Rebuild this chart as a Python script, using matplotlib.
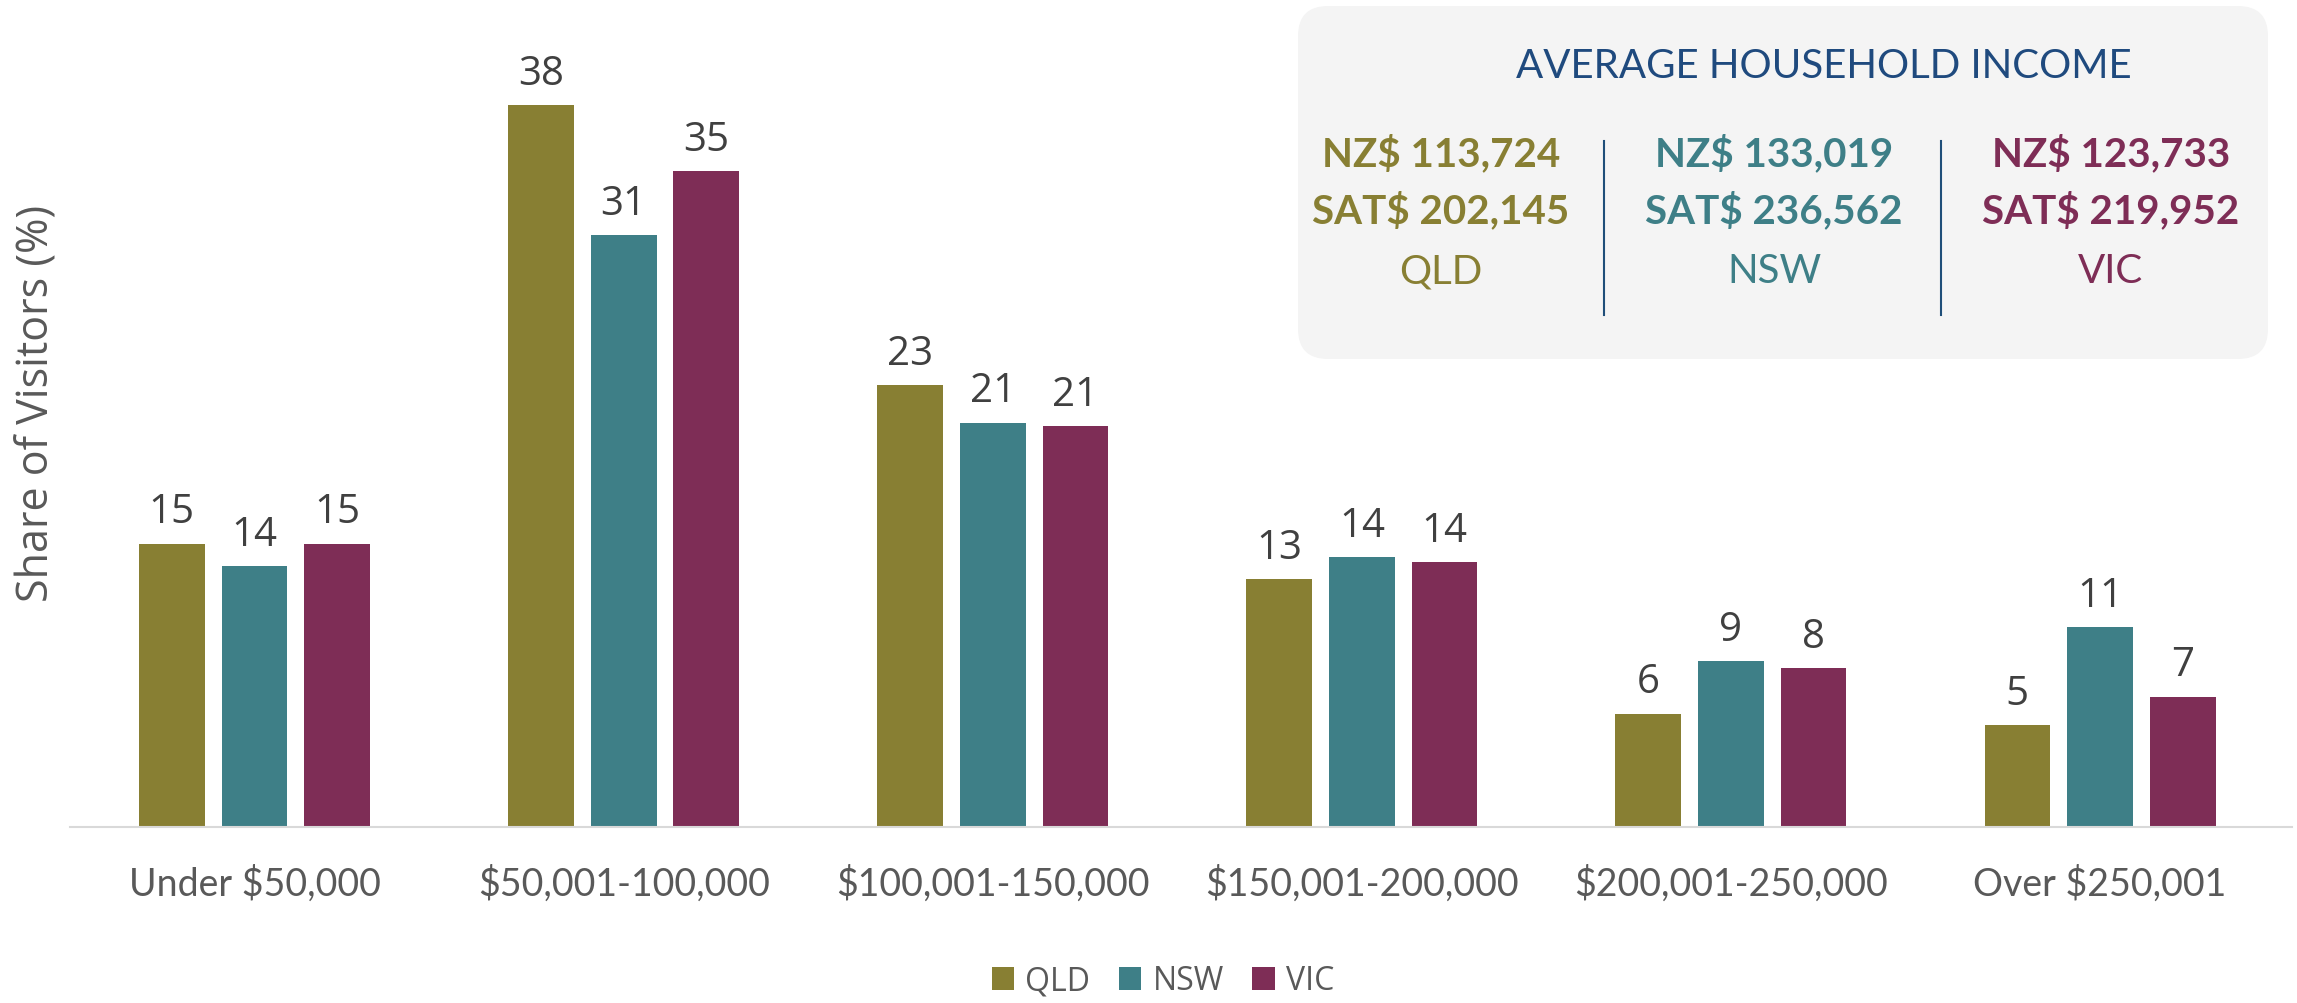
import matplotlib.pyplot as plt
import numpy as np
from matplotlib.patches import FancyBboxPatch

# data
categories = ['Under $50,000', '$50,001-100,000', '$100,001-150,000',
              '$150,001-200,000', '$200,001-250,000', 'Over $250,001']
states = ['QLD', 'NSW', 'VIC']
qld = [15.0, 38.2, 23.4, 13.1, 6.0, 5.4]
nsw = [13.8, 31.3, 21.4, 14.3, 8.8, 10.6]
vic = [15.0, 34.7, 21.2, 14.0, 8.4, 6.9]
nz_income = ['NZ$ 113,724', 'NZ$ 133,019', 'NZ$ 123,733']
sat_income = ['SAT$ 202,145', 'SAT$ 236,562', 'SAT$ 219,952']

colors = ['#887F33', '#3E7F87', '#7E2D56']
W, H = 2297, 1004

fig = plt.figure(figsize=(W / 100, H / 100), dpi=100)
ax = fig.add_axes([70 / W, 176 / H, 2222 / W, 756 / H])

x = np.arange(len(categories))
width = 0.178
step = 0.224
for i, (vals, c, name) in enumerate(zip([qld, nsw, vic], colors, states)):
    pos = x + (i - 1) * step
    bars = ax.bar(pos, vals, width, color=c, label=name)
    for b, v in zip(bars, vals):
        ax.annotate(f'{round(v):d}', (b.get_x() + b.get_width() / 2, v),
                    xytext=(0, 8), textcoords='offset points',
                    ha='center', va='bottom', fontsize=29,
                    family='Open Sans', color='#404040')

ax.set_xlim(-0.5, len(categories) - 0.48)
ax.set_ylim(0, 40)
ax.set_xticks(x)
ax.set_xticklabels(categories, fontsize=27, family='Lato', color='#595959')
ax.tick_params(axis='x', length=0, pad=27)
ax.set_yticks([])
for s in ['top', 'right', 'left']:
    ax.spines[s].set_visible(False)
ax.spines['bottom'].set_color('#D9D9D9')
ax.spines['bottom'].set_linewidth(1.5)

fig.text(37 / W, 1 - 403 / H, 'Share of Visitors (%)', rotation=90,
         ha='center', va='center', fontsize=31, family='Open Sans',
         color='#595959')

leg = fig.legend(loc='center', bbox_to_anchor=(1163 / W, 1 - 982 / H),
                 ncol=3, frameon=False, handlelength=0.7,
                 handleheight=0.7, handletextpad=0.35, columnspacing=0.9,
                 borderpad=0.1, prop={'family': 'Open Sans', 'size': 23})
for t in leg.get_texts():
    t.set_color('#595959')

# info box overlay in pixel coords
ov = fig.add_axes([0, 0, 1, 1], zorder=5)
ov.set_xlim(0, W)
ov.set_ylim(H, 0)
ov.axis('off')
ov.patch.set_alpha(0)

box = FancyBboxPatch((1318, 27), 930, 313, boxstyle='round,pad=20,rounding_size=30',
                     facecolor='#F4F4F4', edgecolor='none')
ov.add_patch(box)
ov.text(1824, 66, 'AVERAGE HOUSEHOLD INCOME', ha='center', va='center',
        fontsize=29, family='Lato', color='#1F4A7E')
col_x = [1441, 1774, 2111]
for cx, nz, sat, st, c in zip(col_x, nz_income, sat_income, states, colors):
    ov.text(cx, 154, nz, ha='center', va='center', fontsize=29,
            family='Lato', weight='bold', color=c)
    ov.text(cx, 211, sat, ha='center', va='center', fontsize=29,
            family='Lato', weight='bold', color=c)
    ov.text(cx, 272, st, ha='center', va='center', fontsize=29,
            family='Lato', color=c)
for dx in [1604, 1941]:
    ov.plot([dx, dx], [142, 316], color='#1F4E79', lw=1.5)

fig.savefig('out.png', dpi=100)
